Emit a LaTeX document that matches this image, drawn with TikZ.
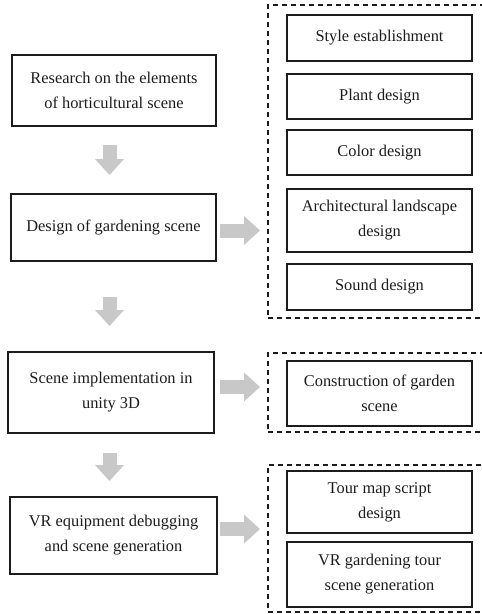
\documentclass[tikz,border=0pt]{standalone}
\usepackage{fontspec}
\setmainfont{Liberation Serif}
\usepackage{xcolor}
\usepackage{tikz}
\usetikzlibrary{arrows.meta}
\definecolor{arrowgray}{RGB}{200,200,200}
\definecolor{inkgray}{RGB}{28,28,28}
\tikzstyle{stepbox}=[rectangle,draw=inkgray,line width=1.5pt,align=center,text=inkgray,inner sep=0pt,font=\fontsize{16.4}{25}\selectfont]
\tikzstyle{groupbox}=[rectangle,draw=inkgray,line width=1.4pt,dash pattern=on 5pt off 4pt,inner sep=0pt]
\tikzstyle{blockarrow}=[draw=arrowgray,line width=14pt,-{Triangle[width=29pt,length=16pt,line width=0pt,fill=arrowgray]}]

\begin{document}
\begin{tikzpicture}[x=1pt,y=-1pt]

 \useasboundingbox (0,0) rectangle (482,614);
 \clip (0,0) rectangle (482,614);

 %dashed groups
 \foreach \x/\y/\w/\h/\name in {379/161.5/222/313/grp1, 379/392.5/222/79/grp2, 379/538.5/222/147/grp3}
          \node[groupbox,minimum width=\w pt,minimum height=\h pt] (\name) at (\x,\y) {};

 %left column
 \foreach \x/\y/\w/\h/\name/\label in {114/90.5/204/71/res/{Research on the elements\\of horticultural scene},
          113.5/227.5/205/67/des/{Design of gardening scene},
          111/392.5/206/81/imp/{Scene implementation in\\unity 3D},
          113.5/535.5/207/77/vr/{VR equipment debugging\\and scene generation}}
          \node[stepbox,minimum width=\w pt,minimum height=\h pt] (\name) at (\x,\y) {\label};

 %right column
 \foreach \y/\h/\name/\label in {38/46/sty/{Style establishment}, 96.5/45/pla/{Plant design},
          152.5/45/col/{Color design}, 220.5/63/arc/{Architectural landscape\\design},
          287/46/snd/{Sound design}, 393.5/65/con/{Construction of garden\\scene},
          502/62/tou/{Tour map script\\design}, 574.5/65/gen/{VR gardening tour\\scene generation}}
          \node[stepbox,minimum width=185pt,minimum height=\h pt] (\name) at (379.5,\y) {\label};

 %block arrows
 \foreach \name/\xa/\ya/\xb/\yb in {dn1/109.5/145/109.5/175, dn2/109.5/297/109.5/326, dn3/109.5/453/109.5/481,
          rt1/220/230.5/260/230.5, rt2/220/387/260/387, rt3/220/529/260/529}
 {
   \coordinate (\name-s) at (\xa,\ya);
   \coordinate (\name-e) at (\xb,\yb);
   \path[blockarrow] (\name-s) -- (\name-e);
 }

\end{tikzpicture}
\end{document}
